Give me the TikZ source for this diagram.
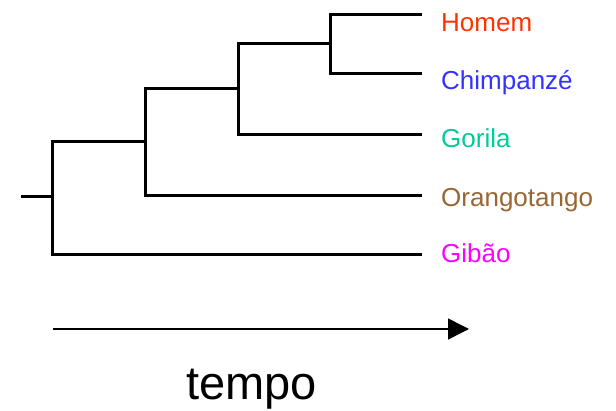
\documentclass[tikz,border=0pt]{standalone}
\usepackage{fontspec}
\setmainfont{Liberation Sans}
\usetikzlibrary{arrows.meta}
\definecolor{cHom}{HTML}{FF3300}
\definecolor{cChi}{HTML}{3333FF}
\definecolor{cGor}{HTML}{00CC99}
\definecolor{cOra}{HTML}{996633}
\definecolor{cGib}{HTML}{FF00FF}
\begin{document}
\begin{tikzpicture}[x=1pt,y=-1pt,
  branch/.style={line width=3pt, line join=miter},
  lbl/.style={anchor=base west, inner sep=0pt, font=\fontsize{26}{30}\selectfont},
  timeax/.style={line width=1.5pt, -{Triangle[length=21pt,width=21pt]}}]
\useasboundingbox (0,0) rectangle (616,411);
% leaf ends
\coordinate (lH) at (422,15);
\coordinate (lC) at (422,74);
\coordinate (lG) at (422,135);
\coordinate (lO) at (422,196);
\coordinate (lB) at (422,255);
% junctions
\coordinate (jHC) at (330,44);
\coordinate (jHCG) at (238,89);
\coordinate (jHCGO) at (145,142);
\coordinate (jR) at (52,197);
\coordinate (st) at (21,197);
% tree
\draw[branch] (lH) -| (jHC) |- (lC);
\draw[branch] (jHC) -| (jHCG) |- (lG);
\draw[branch] (jHCG) -| (jHCGO) |- (lO);
\draw[branch] (jHCGO) -| (jR) |- (lB);
\draw[branch] (jR) -- (st);
% labels
\node[lbl, text=cHom] (tH) at (441,32) {Homem};
\node[lbl, text=cChi] (tC) at (441,90) {Chimpanzé};
\node[lbl, text=cGor] (tG) at (441,148) {Gorila};
\node[lbl, text=cOra] (tO) at (441,207) {Orangotango};
\node[lbl, text=cGib] (tB) at (441,263) {Gibão};
% time axis
\coordinate (a0) at (53,329);
\coordinate (a1) at (469,329);
\draw[timeax] (a0) -- (a1);
\node[anchor=base west, inner sep=0pt, font=\fontsize{47}{54}\selectfont] (tempo) at (186,400) {tempo};
\end{tikzpicture}
\end{document}
